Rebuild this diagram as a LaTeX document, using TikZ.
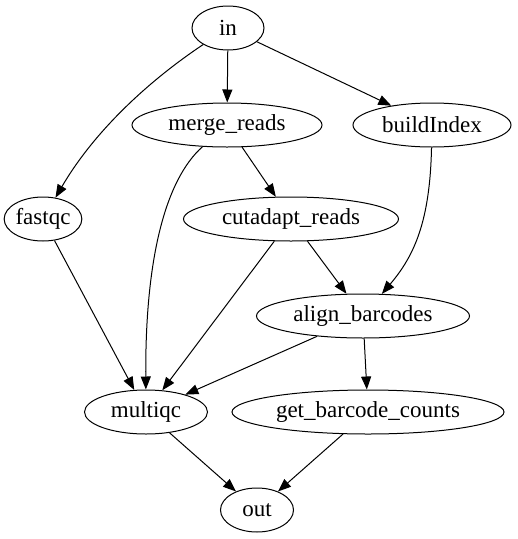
\documentclass[tikz,border=0pt]{standalone}
\usepackage{fontspec}
\setmainfont{Liberation Serif}
\usetikzlibrary{shapes.geometric,arrows.meta}
\tikzset{
  gvnode/.style={draw, ellipse, line width=1pt, inner sep=0pt, minimum height=44pt, font=\fontsize{23}{26}\selectfont},
  gvedge/.style={draw, line width=1pt, -{Triangle[length=13pt,width=10pt]}}
}
\begin{document}
\begin{tikzpicture}[x=1pt,y=-1pt]
\useasboundingbox (0,0) rectangle (518,539);
\node[gvnode, minimum width=72pt] (in) at (228,28) {in};
\node[gvnode, minimum width=190pt] (merge) at (227,125) {merge\_reads};
\node[gvnode, minimum width=158pt] (build) at (432,125) {buildIndex};
\node[gvnode, minimum width=77pt] (fastqc) at (43,219) {fastqc};
\node[gvnode, minimum width=215pt] (cut) at (291,219) {cutadapt\_reads};
\node[gvnode, minimum width=213pt] (align) at (363,316) {align\_barcodes};
\node[gvnode, minimum width=123pt] (multiqc) at (146,412) {multiqc};
\node[gvnode, minimum width=272pt] (get) at (368,412) {get\_barcode\_counts};
\node[gvnode, minimum width=73pt] (out) at (257,510) {out};

\path[gvedge] (in) -- (merge);
\path[gvedge] (in) -- (build);
\path[gvedge] (in) .. controls (150,80) and (95,130) .. (fastqc);
\path[gvedge] (merge) -- (cut);
\path[gvedge] (merge) .. controls (165,180) and (145,260) .. (multiqc);
\path[gvedge] (build) .. controls (430,220) and (415,255) .. (align);
\path[gvedge] (fastqc) -- (multiqc);
\path[gvedge] (cut) -- (align);
\path[gvedge] (cut) -- (multiqc);
\path[gvedge] (align) -- (multiqc);
\path[gvedge] (align) -- (get);
\path[gvedge] (multiqc) -- (out);
\path[gvedge] (get) -- (out);
\end{tikzpicture}
\end{document}
